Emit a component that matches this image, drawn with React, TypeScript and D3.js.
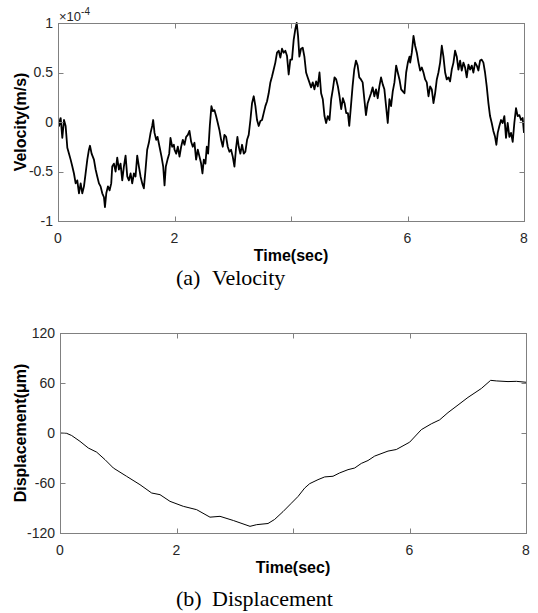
import React from 'react';
import * as d3 from 'd3';

const velTime = [
  0, 0.017, 0.046, 0.074, 0.103, 0.131, 0.16, 0.189, 0.217, 0.246, 0.274, 0.303, 0.331, 0.36, 0.389, 0.417, 0.446, 0.474, 0.503, 0.531, 0.549, 0.577, 0.617, 0.646, 0.674, 0.703, 0.731, 0.76, 0.789, 0.806, 0.829, 0.857, 0.886, 0.914, 0.931, 0.96, 0.989, 1.017, 1.046, 1.074, 1.103, 1.131, 1.16, 1.189, 1.217, 1.246, 1.274, 1.303, 1.331, 1.36, 1.389, 1.417, 1.446, 1.474, 1.503, 1.531, 1.56, 1.589, 1.617, 1.634, 1.657, 1.686, 1.709, 1.743, 1.777, 1.806, 1.829, 1.851, 1.88, 1.909, 1.931, 1.96, 1.989,
  2.0, 2.029, 2.057, 2.086, 2.114, 2.143, 2.171, 2.2, 2.229, 2.257, 2.286, 2.314, 2.343, 2.371, 2.4, 2.429, 2.457, 2.48, 2.503, 2.531, 2.554, 2.577, 2.606, 2.634, 2.657, 2.686, 2.714, 2.743, 2.771, 2.8, 2.829, 2.857, 2.886, 2.914, 2.943, 2.971, 3.0, 3.029, 3.057, 3.08, 3.103, 3.131, 3.16, 3.189, 3.217, 3.246, 3.274, 3.303, 3.331, 3.36, 3.389, 3.417, 3.446, 3.474, 3.503, 3.531, 3.56, 3.589, 3.617, 3.646, 3.674, 3.703, 3.731, 3.76, 3.789, 3.817, 3.846, 3.874, 3.903, 3.931, 3.96, 3.989,
  4.017, 4.046, 4.075, 4.098, 4.121, 4.144, 4.172, 4.201, 4.23, 4.259, 4.287, 4.316, 4.345, 4.374, 4.402, 4.431, 4.46, 4.489, 4.517, 4.546, 4.575, 4.603, 4.632, 4.661, 4.69, 4.718, 4.747, 4.776, 4.805, 4.833, 4.862, 4.891, 4.92, 4.948, 4.977, 5.0, 5.029, 5.057, 5.086, 5.115, 5.144, 5.172, 5.201, 5.23, 5.259, 5.287, 5.316, 5.345, 5.374, 5.402, 5.431, 5.46, 5.489, 5.517, 5.546, 5.575, 5.603, 5.632, 5.661, 5.69, 5.718, 5.747, 5.776, 5.805, 5.833, 5.862, 5.891, 5.92, 5.948, 5.977, 6.006, 6.034,
  6.046, 6.074, 6.103, 6.131, 6.16, 6.189, 6.217, 6.246, 6.274, 6.303, 6.331, 6.36, 6.389, 6.417, 6.446, 6.474, 6.503, 6.531, 6.56, 6.589, 6.617, 6.646, 6.674, 6.703, 6.731, 6.76, 6.789, 6.817, 6.846, 6.874, 6.903, 6.931, 6.96, 6.989, 7.017, 7.046, 7.074, 7.103, 7.131, 7.16, 7.189, 7.217, 7.246, 7.274, 7.303, 7.331, 7.36, 7.389, 7.417, 7.446, 7.474, 7.503, 7.526, 7.549, 7.577, 7.606, 7.634, 7.663, 7.691, 7.72, 7.749, 7.777, 7.806, 7.834, 7.863, 7.891, 7.92, 7.949, 7.977, 8.0,
];

const velValue = [
  0.06, -0.04, 0.04, -0.16, 0.02, -0.04, -0.26, -0.32, -0.38, -0.45, -0.52, -0.62, -0.59, -0.72, -0.62, -0.72, -0.65, -0.52, -0.38, -0.28, -0.24, -0.32, -0.38, -0.48, -0.55, -0.62, -0.65, -0.72, -0.76, -0.86, -0.72, -0.65, -0.69, -0.62, -0.45, -0.42, -0.50, -0.36, -0.48, -0.42, -0.59, -0.45, -0.34, -0.55, -0.59, -0.52, -0.62, -0.52, -0.55, -0.34, -0.45, -0.55, -0.62, -0.67, -0.48, -0.28, -0.21, -0.11, -0.04, 0.02, -0.11, -0.18, -0.15, -0.25, -0.35, -0.45, -0.64, -0.45, -0.38, -0.32, -0.16, -0.25, -0.23,
  -0.28, -0.32, -0.25, -0.35, -0.25, -0.18, -0.23, -0.15, -0.13, -0.09, -0.20, -0.25, -0.21, -0.38, -0.28, -0.35, -0.42, -0.52, -0.38, -0.42, -0.25, -0.32, -0.04, 0.16, 0.11, 0.12, 0.06, -0.01, -0.08, -0.18, -0.25, -0.13, -0.15, -0.25, -0.30, -0.28, -0.35, -0.45, -0.26, -0.15, -0.25, -0.32, -0.23, -0.32, -0.30, -0.18, -0.13, 0.02, 0.19, 0.26, 0.16, 0.02, -0.04, 0.01, 0.02, 0.09, 0.16, 0.21, 0.29, 0.40, 0.46, 0.53, 0.60, 0.70, 0.72, 0.65, 0.74, 0.70, 0.72, 0.67, 0.48, 0.63,
  0.63, 0.83, 0.94, 1.0, 0.87, 0.66, 0.74, 0.75, 0.66, 0.50, 0.45, 0.40, 0.35, 0.40, 0.33, 0.41, 0.36, 0.50, 0.29, 0.23, 0.06, -0.01, 0.06, 0.02, 0.23, 0.33, 0.45, 0.43, 0.36, 0.26, 0.13, 0.24, 0.19, 0.09, 0.09, -0.04, 0.16, 0.36, 0.53, 0.62, 0.57, 0.45, 0.43, 0.40, 0.23, 0.07, 0.19, 0.24, 0.29, 0.35, 0.26, 0.33, 0.24, 0.36, 0.45, 0.38, 0.33, 0.16, -0.01, 0.23, 0.16, 0.31, 0.40, 0.57, 0.50, 0.43, 0.33, 0.31, 0.29, 0.50, 0.60, 0.66,
  0.60, 0.70, 0.87, 0.77, 0.70, 0.60, 0.52, 0.55, 0.50, 0.43, 0.40, 0.26, 0.36, 0.33, 0.19, 0.29, 0.43, 0.50, 0.60, 0.77, 0.66, 0.50, 0.43, 0.45, 0.41, 0.53, 0.60, 0.72, 0.66, 0.53, 0.62, 0.52, 0.60, 0.55, 0.45, 0.58, 0.53, 0.57, 0.50, 0.60, 0.57, 0.52, 0.62, 0.63, 0.60, 0.50, 0.36, 0.19, 0.06, -0.01, -0.09, -0.15, -0.23, -0.11, -0.04, 0.02, -0.01, 0.06, -0.16, -0.01, -0.15, -0.11, -0.20, -0.01, 0.14, 0.06, 0.07, 0.02, 0.04, -0.11,
];

const dispTime = [0, 0.114, 0.2, 0.343, 0.486, 0.63, 0.773, 0.916, 1.144, 1.373, 1.574, 1.717, 1.888, 2.117, 2.346, 2.575, 2.747, 2.976, 3.262, 3.376, 3.571, 3.685, 3.828, 3.971, 4.086, 4.2, 4.286, 4.429, 4.544, 4.687, 4.801, 4.944, 5.059, 5.173, 5.288, 5.402, 5.631, 5.774, 6.003, 6.203, 6.374, 6.518, 6.661, 6.833, 7.004, 7.233, 7.393, 7.49, 7.691, 7.834, 8.0];
const dispValue = [0, -0.4, -3, -10, -18, -23, -32, -42, -52, -62, -72, -74, -82, -88, -92, -101, -100, -105, -112, -110, -108.6, -103.7, -94.4, -84.3, -76.2, -66.1, -60.8, -56, -52.7, -51.9, -47.9, -44, -42, -36.5, -33, -27.7, -21.7, -19.8, -11, 4, 11, 15.8, 24.5, 33.6, 42.7, 53.4, 63.2, 62.5, 61.7, 62, 60.9];

const xTicks = [0, 2, 4, 6, 8];
const xTickLabels = ['0', '2', '', '6', '8'];
const velTicks = [-1, -0.5, 0, 0.5, 1];
const velTickLabels = ['-1', '-0.5', '0', '0.5', '1'];
const dispTicks = [-120, -60, 0, 60, 120];
const dispTickLabels = ['-120', '-60', '0', '60', '120'];

const AXIS = '#808080';
const TXT = '#262626';
const SANS = '"Liberation Sans", Arial, sans-serif';
const SERIF = '"Liberation Serif", "Times New Roman", serif';

type PanelProps = {
  id: string;
  left: number; right: number; top: number; bottom: number;
  yDomain: [number, number];
  yTicks: number[]; yTickLabels: string[];
  xs: number[]; ys: number[];
  yLabel: string; capTag: string; capWord: string; capY: number;
  exponent?: boolean;
  strokeWidth: number;
};

function Panel(p: PanelProps) {
  const x = d3.scaleLinear().domain([0, 8]).range([p.left, p.right]);
  const y = d3.scaleLinear().domain(p.yDomain).range([p.bottom, p.top]);
  const pts: [number, number][] = p.xs.map((t, i) => [t, p.ys[i]]);
  const line = d3.line<[number, number]>().x(d => x(d[0])).y(d => y(d[1]));
  const L = p.left + 0.5, R = p.right + 0.5, T = p.top + 0.5, B = p.bottom + 0.5;
  const tl = 5;
  return (
    <g>
      <defs>
        <clipPath id={p.id}>
          <rect x={p.left} y={p.top - 1} width={p.right - p.left + 1} height={p.bottom - p.top + 2} />
        </clipPath>
      </defs>
      <path d={line(pts) || ''} fill="none" stroke="#000" strokeWidth={p.strokeWidth} strokeLinejoin="round" clipPath={`url(#${p.id})`} />
      <rect x={L} y={T} width={R - L} height={B - T} fill="none" stroke={AXIS} strokeWidth={1} />
      {xTicks.map((t, i) => (
        <g key={'x' + i}>
          <line x1={Math.round(x(t)) + 0.5} x2={Math.round(x(t)) + 0.5} y1={B} y2={B - tl} stroke={AXIS} />
          <line x1={Math.round(x(t)) + 0.5} x2={Math.round(x(t)) + 0.5} y1={T} y2={T + tl} stroke={AXIS} />
          <text x={x(t)} y={p.bottom + 22} textAnchor="middle" fontFamily={SANS} fontSize={14} fill={TXT}>{xTickLabels[i]}</text>
        </g>
      ))}
      {p.yTicks.map((v, i) => (
        <g key={'y' + i}>
          <line x1={L} x2={L + tl} y1={Math.round(y(v)) + 0.5} y2={Math.round(y(v)) + 0.5} stroke={AXIS} />
          <line x1={R} x2={R - tl} y1={Math.round(y(v)) + 0.5} y2={Math.round(y(v)) + 0.5} stroke={AXIS} />
          <text x={p.left - 5} y={y(v)} dy="0.35em" textAnchor="end" fontFamily={SANS} fontSize={14} fill={TXT}>{p.yTickLabels[i]}</text>
        </g>
      ))}
      {p.exponent && (
        <text x={p.left + 1} y={p.top - 2} fontFamily={SANS} fontSize={13} fill={TXT}>
          ×10<tspan dy={-6} fontSize={10}>-4</tspan>
        </text>
      )}
      <text x={(p.left + p.right) / 2} y={p.bottom + 40} textAnchor="middle" fontFamily={SANS} fontSize={16} fontWeight="bold" fill="#000">Time(sec)</text>
      <text transform={`translate(${26},${(p.top + p.bottom) / 2}) rotate(-90)`} textAnchor="middle" fontFamily={SANS} fontSize={16} fontWeight="bold" fill="#000">{p.yLabel}</text>
      <text x={176} y={p.capY} fontFamily={SERIF} fontSize={22} fill="#000">{p.capTag}</text>
      <text x={212} y={p.capY} fontFamily={SERIF} fontSize={22} fill="#000">{p.capWord}</text>
    </g>
  );
}

export default function App() {
  return (
    <svg width={538} height={613} style={{ position: 'absolute', left: 0, top: 0, background: '#fff' }}>
      <rect x={0} y={0} width={538} height={613} fill="#fff" />
      <Panel id="c1" left={58} right={524} top={23} bottom={221} yDomain={[-1, 1]} yTicks={velTicks} yTickLabels={velTickLabels}
        xs={velTime} ys={velValue} yLabel="Velocity(m/s)" capTag="(a)" capWord="Velocity" capY={285} exponent strokeWidth={1.8} />
      <Panel id="c2" left={60} right={526} top={333} bottom={533} yDomain={[-120, 120]} yTicks={dispTicks} yTickLabels={dispTickLabels}
        xs={dispTime} ys={dispValue} yLabel="Displacement(μm)" capTag="(b)" capWord="Displacement" capY={606} strokeWidth={1} />
    </svg>
  );
}
